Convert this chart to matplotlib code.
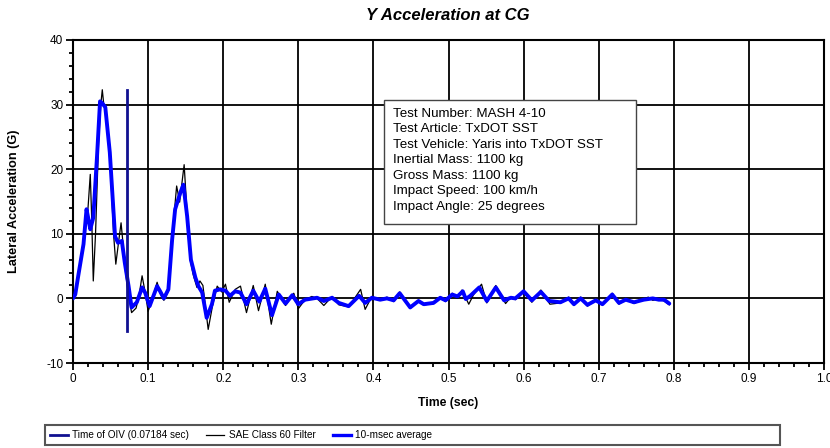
import matplotlib
matplotlib.use("Agg")
import matplotlib.pyplot as plt
from matplotlib.ticker import MultipleLocator, FixedLocator
from matplotlib.lines import Line2D
from matplotlib.patches import Rectangle

plt.rcParams['font.family'] = ['Liberation Sans', 'DejaVu Sans']
plt.rcParams['axes.unicode_minus'] = False

title = "Y Acceleration at CG"
xlabel = "Time (sec)"
ylabel = "Lateral Acceleration (G)"

oiv_time = 0.07184
oiv_range = [-5.0, 32.3]

info_lines = [
    "Test Number: MASH 4-10",
    "Test Article: TxDOT SST",
    "Test Vehicle: Yaris into TxDOT SST",
    "Inertial Mass: 1100 kg",
    "Gross Mass: 1100 kg",
    "Impact Speed: 100 km/h",
    "Impact Angle: 25 degrees",
]

legend_labels = ["Time of OIV (0.07184 sec)", "SAE Class 60 Filter", "10-msec average"]

x_ticks = [0, 0.1, 0.2, 0.3, 0.4, 0.5, 0.6, 0.7, 0.8, 0.9, 1.0]
x_ticklabels = ["0", "0.1", "0.2", "0.3", "0.4", "0.5", "0.6", "0.7", "0.8", "0.9", "1.0"]
y_ticks = [-10, 0, 10, 20, 30, 40]

# SAE Class 60 filtered signal
sae_t = [0.000, 0.003, 0.008, 0.013, 0.016, 0.020, 0.023, 0.025, 0.027, 0.030,
         0.034, 0.037, 0.039, 0.041, 0.045, 0.050, 0.054, 0.057, 0.061, 0.064,
         0.067, 0.070, 0.074, 0.078, 0.084, 0.088, 0.092, 0.096, 0.100, 0.106,
         0.112, 0.116, 0.121, 0.127, 0.131, 0.135, 0.138, 0.142, 0.148, 0.152,
         0.156, 0.160, 0.165, 0.169, 0.173, 0.180, 0.186, 0.192, 0.198, 0.203,
         0.208, 0.216, 0.223, 0.231, 0.240, 0.247, 0.256, 0.264, 0.272, 0.283,
         0.294, 0.300, 0.309, 0.318, 0.325, 0.334, 0.345, 0.354, 0.367, 0.376,
         0.383, 0.389, 0.398, 0.409, 0.418, 0.427, 0.435, 0.449, 0.460, 0.467,
         0.480, 0.489, 0.496, 0.505, 0.512, 0.518, 0.527, 0.533, 0.544, 0.551,
         0.563, 0.576, 0.583, 0.589, 0.600, 0.611, 0.623, 0.635, 0.649, 0.660,
         0.667, 0.676, 0.685, 0.696, 0.705, 0.718, 0.727, 0.736, 0.747, 0.760,
         0.766, 0.772, 0.780, 0.787, 0.794]
sae_g = [0.0, 0.4, 4.0, 8.0, 10.2, 14.0, 19.2, 12.0, 2.7, 10.0,
         24.0, 30.0, 32.3, 30.0, 28.0, 20.0, 10.0, 5.3, 9.0, 11.7,
         8.0, 4.0, 0.5, -2.2, -1.5, 0.5, 3.5, 1.0, -2.0, 0.0,
         2.5, 0.8, -0.3, 1.2, 8.0, 13.5, 17.4, 14.9, 20.7, 13.0,
         6.0, 3.7, 1.7, 2.7, 2.0, -4.8, -1.0, 1.9, 1.0, 2.2,
         -0.6, 1.4, 1.9, -2.2, 2.0, -1.9, 2.2, -4.0, 1.1, -1.1,
         0.8, -1.6, -0.2, 0.3, 0.0, -1.1, 0.3, -1.0, -1.3, 0.2,
         1.4, -1.7, 0.3, -0.3, 0.2, -0.5, 1.0, -1.5, -0.3, -1.0,
         -0.8, 0.2, -0.5, 0.8, 0.0, 1.3, -0.9, 0.5, 2.2, -0.7,
         2.0, -0.8, 0.2, -0.2, 1.3, -0.6, 1.3, -0.9, -0.7, 0.2,
         -1.1, 0.2, -1.2, -0.2, -1.0, 0.8, -0.9, -0.1, -0.8, -0.1,
         0.2, -0.3, -0.1, -0.4, -1.0]

# 10-msec moving average
avg_t = [0.000, 0.003, 0.007, 0.014, 0.018, 0.021, 0.023, 0.027, 0.032, 0.036,
         0.039, 0.043, 0.049, 0.056, 0.060, 0.065, 0.069, 0.074, 0.078, 0.085,
         0.092, 0.096, 0.102, 0.112, 0.116, 0.121, 0.127, 0.132, 0.136, 0.143,
         0.147, 0.152, 0.157, 0.163, 0.167, 0.172, 0.178, 0.185, 0.189, 0.196,
         0.203, 0.209, 0.216, 0.223, 0.231, 0.240, 0.248, 0.256, 0.265, 0.274,
         0.283, 0.292, 0.300, 0.309, 0.325, 0.334, 0.345, 0.354, 0.367, 0.381,
         0.389, 0.398, 0.409, 0.418, 0.427, 0.435, 0.449, 0.460, 0.467, 0.480,
         0.489, 0.496, 0.505, 0.512, 0.519, 0.523, 0.529, 0.541, 0.551, 0.563,
         0.574, 0.583, 0.589, 0.600, 0.611, 0.623, 0.634, 0.649, 0.660, 0.667,
         0.676, 0.685, 0.696, 0.705, 0.718, 0.727, 0.736, 0.747, 0.760, 0.772,
         0.780, 0.787, 0.794]
avg_g = [0.0, 0.6, 3.5, 8.4, 13.8, 12.0, 10.7, 12.5, 22.0, 30.5,
         30.2, 29.6, 22.6, 9.6, 8.6, 8.9, 5.5, 1.9, -1.4, -0.6,
         1.7, 0.9, -1.2, 1.9, 1.1, 0.0, 1.4, 9.1, 13.8, 16.4,
         17.6, 12.7, 6.0, 3.2, 1.9, 0.9, -3.0, -0.9, 1.2, 1.4,
         1.2, 0.4, 1.1, 0.9, -0.9, 1.2, -0.5, 1.5, -2.6, 0.6,
         -0.8, 0.5, -0.9, -0.2, 0.1, -0.4, 0.1, -0.7, -1.2, 0.4,
         -0.7, 0.1, -0.2, 0.0, -0.3, 0.8, -1.4, -0.4, -0.9, -0.7,
         0.1, -0.3, 0.6, 0.3, 1.1, -0.1, 0.4, 1.7, -0.4, 1.7,
         -0.3, 0.1, 0.0, 1.1, -0.3, 1.0, -0.4, -0.6, 0.0, -0.9,
         0.0, -1.0, -0.3, -0.9, 0.6, -0.7, -0.2, -0.6, -0.2, 0.0,
         -0.2, -0.2, -0.8]

W, H = 830, 448
fig = plt.figure(figsize=(W / 100, H / 100), dpi=100)
ax = fig.add_axes([73 / W, 1 - 363 / H, (824 - 73) / W, (363 - 40) / H])

ax.set_xlim(0, 1.0)
ax.set_ylim(-10, 40)
ax.xaxis.set_major_locator(FixedLocator(x_ticks))
ax.set_xticklabels(x_ticklabels)
ax.xaxis.set_minor_locator(MultipleLocator(0.02))
ax.yaxis.set_major_locator(FixedLocator(y_ticks))
ax.yaxis.set_minor_locator(MultipleLocator(2))
ax.grid(True, which='major', color='black', linewidth=1.3)
ax.set_axisbelow(True)
ax.tick_params(axis='both', which='major', direction='out', length=5, width=1.3,
               labelsize=8.5, colors='black', pad=2)
ax.tick_params(axis='both', which='minor', direction='out', length=3, width=1.3)
for s in ax.spines.values():
    s.set_linewidth(1.5)

ax.plot(sae_t, sae_g, color='black', linewidth=0.9, zorder=3,
        solid_joinstyle='round')
ax.plot(avg_t, avg_g, color='#0000ff', linewidth=2.8, zorder=4,
        solid_joinstyle='round', solid_capstyle='round')
ax.plot([oiv_time, oiv_time], oiv_range, color='#101090', linewidth=2.0, zorder=5)

ax.set_xlabel(xlabel, fontsize=8.8, fontweight='bold', labelpad=9)
ax.set_ylabel(ylabel, fontsize=9.2, fontweight='bold', labelpad=19)
fig.text(448 / W, 1 - 16 / H, title, fontsize=12, fontweight='bold', fontstyle='italic',
         ha='center', va='center')

# info box
fig.patches.append(Rectangle((384 / W, 1 - 224 / H), (636 - 384) / W, (224 - 100) / H,
                             transform=fig.transFigure, facecolor='white',
                             edgecolor='#444444', linewidth=1.0, zorder=6))
fig.text(393 / W, 1 - 108 / H, "\n".join(info_lines), fontsize=9.6,
         va='top', ha='left', linespacing=1.38, zorder=7)

# legend box
fig.patches.append(Rectangle((45 / W, 1 - 445 / H), (780 - 45) / W, 20 / H,
                             transform=fig.transFigure, facecolor='white',
                             edgecolor='#555555', linewidth=1.5))
handles = [Line2D([], [], color='#101090', linewidth=2.0),
           Line2D([], [], color='black', linewidth=0.9),
           Line2D([], [], color='#0000ff', linewidth=2.4)]
fig.legend(handles, legend_labels, loc='center left', bbox_to_anchor=(43 / W, 1 - 435 / H),
           ncol=3, frameon=False, fontsize=7.2, handlelength=1.8, handletextpad=0.45,
           columnspacing=1.7, borderpad=0.2)

fig.savefig("out.png", dpi=100)
